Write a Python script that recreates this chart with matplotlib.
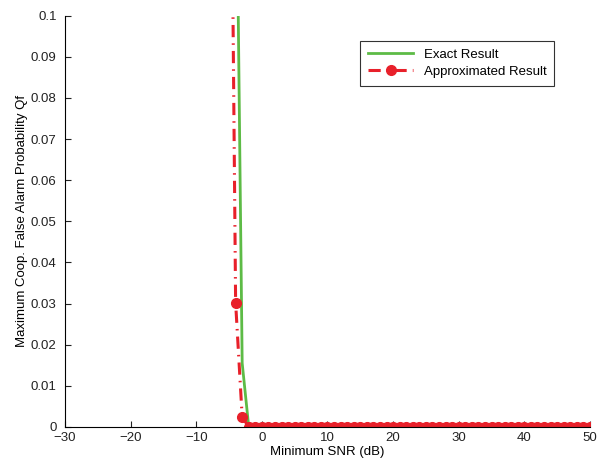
import numpy as np
import matplotlib.pyplot as plt

plt.rcParams['font.family'] = ['Liberation Sans', 'DejaVu Sans']

# Minimum SNR (dB) and false-alarm probability
snr_exact = [-4, -3, -2] + list(range(-1, 51))
qf_exact = [0.157, 0.0155, 0.0] + [0.0] * 52

snr_approx = [-5, -4, -3, -2] + list(range(-1, 51))
qf_approx = [0.205, 0.0302, 0.0024, 0.0] + [0.0] * 52

green = '#5dbb46'
red = '#e8202a'

fig = plt.figure(figsize=(6.02, 4.63), dpi=100)
ax = fig.add_axes([0.108, 0.078, 0.872, 0.888])

ax.plot(snr_exact, qf_exact, color=green, lw=2, label='Exact Result')
ax.plot(snr_approx, qf_approx, color=red, lw=2.2, linestyle=(0, (4, 2, 0.5, 2)),
        marker='o', markersize=7, label='Approximated Result')

ax.set_xlim(-30, 50)
ax.set_ylim(0, 0.1)
ax.set_xticks(np.arange(-30, 51, 10))
ax.set_yticks(np.arange(0, 0.101, 0.01))
ax.set_yticklabels(['0', '0.01', '0.02', '0.03', '0.04', '0.05',
                    '0.06', '0.07', '0.08', '0.09', '0.1'])
ax.set_xticklabels(['\u221230', '\u221220', '\u221210', '0', '10', '20',
                    '30', '40', '50'])
ax.tick_params(direction='in', labelsize=9.5, colors='#222222', length=4)
ax.tick_params(axis='y', pad=6)
ax.tick_params(axis='x', pad=4)
ax.spines['top'].set_visible(False)
ax.spines['right'].set_visible(False)

ax.set_xlabel('Minimum SNR (dB)', fontsize=9.5, labelpad=1)
ax.set_ylabel('Maximum Coop. False Alarm Probability Qf', fontsize=9.5, labelpad=2)

leg = ax.legend(loc='upper right', bbox_to_anchor=(0.945, 0.955),
                fancybox=False, edgecolor='black', fontsize=9.5,
                handlelength=3.4, borderpad=0.6, labelspacing=0.35)
leg.get_frame().set_linewidth(0.8)

fig.savefig('out.png', dpi=100)
